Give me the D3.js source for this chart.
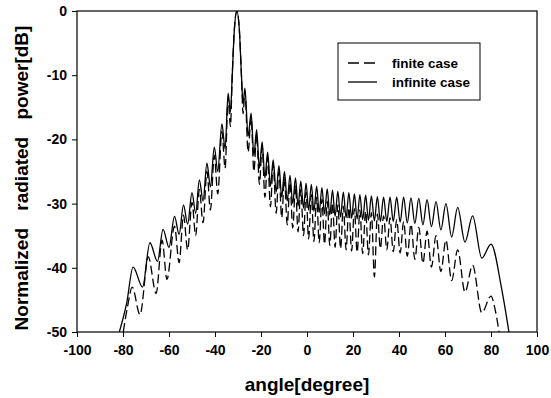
<!DOCTYPE html>
<html>
  <head>
    <meta charset="utf-8">
  </head>
  <body style="margin:0">
    <style>
      body { background: #fff; }
      svg text { font-family: "Liberation Sans", Arial, sans-serif; font-weight: bold; fill: #000; }
    </style>
    <script src="https://d3js.org/d3.v7.min.js"></script>
    <script type="text/javascript">
      const width = 551;
      const height = 398;
      const margin = { top: 11, right: 14, bottom: 66, left: 77 };

      const xTicks = [-100, -80, -60, -40, -20, 0, 20, 40, 60, 80, 100];
      const yTicks = [0, -10, -20, -30, -40, -50];
      const seriesNames = ['finite case', 'infinite case'];

      // [angle in degree, power in dB], peaks and nulls
      const finiteCase = [
        [-79.9, -50], [-78, -46], [-76, -43], [-72.6, -47.3], [-69, -38.3], [-65.6, -44],
        [-63, -35.7], [-60.9, -41.8], [-57.6, -33.5], [-55.6, -39.2], [-53.7, -31.8], [-51.9, -37.2],
        [-50, -29.8], [-48.4, -35], [-46.8, -27.8], [-45.2, -33], [-43.5, -25], [-42, -31],
        [-40.3, -22.5], [-38.8, -28.5], [-37, -18.8], [-35.6, -24.5], [-34.3, -13.5], [-33.3, -18],
        [-32.5, -10], [-31.6, -3], [-30.5, 0], [-29.4, -3], [-28.5, -10], [-27.8, -16],
        [-27, -12.5], [-25.6, -22], [-24.3, -16.5], [-23.1, -25], [-21.9, -19.2], [-20.7, -27],
        [-19.5, -21.2], [-18.3, -29], [-17.1, -22.8], [-15.9, -30.5], [-14.7, -24], [-13.4, -31.5],
        [-12.2, -25], [-11, -32.2], [-9.8, -26], [-8.6, -33.3], [-7.4, -26.7], [-6.2, -33.8],
        [-5, -27.2], [-3.9, -34.4], [-2.7, -27.8], [-1.5, -35], [-0.4, -28.2], [0.7, -35.5],
        [1.9, -28.6], [3, -35.9], [4.2, -29], [5.3, -36.1], [6.5, -29.3], [7.6, -36.3],
        [8.8, -29.6], [9.9, -36.5], [11.1, -29.9], [12.2, -36.8], [13.4, -30.2], [14.6, -37],
        [15.8, -30.4], [17, -37.2], [18.2, -30.6], [19.4, -37.4], [20.6, -30.8], [21.8, -37.6],
        [23, -31], [24.2, -37.8], [25.5, -31.2], [26.7, -38], [28, -31.4], [29.3, -41.4],
        [30.6, -31.6], [31.9, -37], [33.3, -31.9], [34.7, -37.2], [36.1, -32.2], [37.5, -37.5],
        [39, -32.5], [40.5, -37.7], [42, -32.8], [43.6, -38.2], [45.2, -33.2], [46.9, -38.7],
        [48.6, -33.7], [50.4, -39.3], [52.2, -34.3], [54.1, -39.9], [56.1, -35], [58.2, -40.6],
        [60.4, -35.7], [62.9, -42], [65.5, -37.2], [68.7, -43.8], [72, -39.6], [76, -47],
        [80, -44.4], [81.8, -46.5], [83.5, -50]
      ];
      const infiniteCase = [
        [-81.6, -50], [-78.4, -45.5], [-75.6, -39.9], [-71.5, -43], [-68.3, -36.1], [-65, -39],
        [-62.6, -34], [-60, -36.8], [-57.6, -32], [-55.6, -34.8], [-53.7, -30.2], [-51.9, -33.2],
        [-50, -28.3], [-48.4, -31.5], [-46.8, -26.3], [-45.2, -29.6], [-43.5, -23.7], [-42, -27.4],
        [-40.3, -21.2], [-38.8, -25], [-37, -17.6], [-35.6, -21.5], [-34.3, -12.8], [-33.3, -15.8],
        [-32.5, -10], [-31.6, -3], [-30.5, 0], [-29.4, -3], [-28.5, -10], [-27.8, -14.5],
        [-27, -12], [-25.6, -19.5], [-24.3, -15.9], [-23.1, -22.5], [-21.9, -18.5], [-20.7, -24.5],
        [-19.5, -20.4], [-18.3, -26], [-17.1, -22], [-15.9, -27.3], [-14.7, -23.2], [-13.4, -28.2],
        [-12.2, -24.1], [-11, -29], [-9.8, -25], [-8.6, -29.6], [-7.4, -25.6], [-6.2, -30],
        [-5, -26], [-3.9, -30.4], [-2.7, -26.5], [-1.5, -30.7], [-0.4, -26.8], [0.7, -31],
        [1.9, -27], [3, -31.2], [4.2, -27.3], [5.3, -31.4], [6.5, -27.5], [7.6, -31.6],
        [8.8, -27.7], [9.9, -31.8], [11.1, -27.9], [12.2, -32], [13.4, -28.1], [14.6, -32.1],
        [15.8, -28.2], [17, -32.2], [18.2, -28.3], [19.4, -32.3], [20.6, -28.5], [21.8, -32.4],
        [23, -28.6], [24.2, -32.5], [25.5, -28.7], [26.7, -32.6], [28, -28.8], [29.3, -32.7],
        [30.6, -28.9], [31.9, -32.8], [33.3, -29], [34.7, -32.8], [36.1, -29], [37.5, -32.8],
        [39, -29], [40.5, -32.9], [42, -29], [43.6, -33], [45.2, -29.1], [46.9, -33.1],
        [48.6, -29.2], [50.4, -33.3], [52.2, -29.4], [54.1, -33.6], [56.1, -29.7], [58.2, -34.1],
        [60.4, -30], [62.9, -35.2], [65.5, -30.6], [68.7, -36], [72, -31.9], [76, -38.5],
        [80, -36.3], [84.5, -43], [87.8, -50]
      ];

      const svg = d3.select('body')
        .append('svg')
        .attr('width', width)
        .attr('height', height)

      const scaleX = d3.scaleLinear()
        .domain([-100, 100])
        .range([margin.left, width - margin.right])
      const scaleY = d3.scaleLinear()
        .domain([-50, 0])
        .range([height - margin.bottom, margin.top])

      svg.append('clipPath')
        .attr('id', 'plot')
        .append('rect')
        .attr('x', margin.left)
        .attr('y', margin.top)
        .attr('width', width - margin.left - margin.right)
        .attr('height', height - margin.top - margin.bottom)

      const line = d3.line()
        .x((d) => scaleX(d[0]))
        .y((d) => scaleY(d[1]))
        .curve(d3.curveMonotoneX)

      svg.append('path')
        .datum(finiteCase)
        .attr('clip-path', 'url(#plot)')
        .attr('d', line)
        .attr('fill', 'none')
        .attr('stroke', '#000')
        .attr('stroke-width', 1.3)
        .attr('stroke-dasharray', '9,4')

      svg.append('path')
        .datum(infiniteCase)
        .attr('clip-path', 'url(#plot)')
        .attr('d', line)
        .attr('fill', 'none')
        .attr('stroke', '#000')
        .attr('stroke-width', 1.3)

      // frame
      svg.append('rect')
        .attr('x', margin.left)
        .attr('y', margin.top)
        .attr('width', width - margin.left - margin.right)
        .attr('height', height - margin.top - margin.bottom)
        .attr('fill', 'none')
        .attr('stroke', '#000')
        .attr('stroke-width', 1.2)

      const axisBottom = d3.axisBottom(scaleX)
        .tickValues(xTicks)
        .tickFormat((d) => String(d))
        .tickSize(5)
        .tickPadding(8)
      const gx = svg.append('g')
        .attr('transform', `translate(0, ${height - margin.bottom})`)
        .call(axisBottom)
      gx.select('.domain').remove()
      gx.selectAll('text').style('font-size', '14px')

      const axisLeft = d3.axisLeft(scaleY)
        .tickValues(yTicks)
        .tickFormat((d) => String(d))
        .tickSize(5)
        .tickPadding(5)
      const gy = svg.append('g')
        .attr('transform', `translate(${margin.left}, 0)`)
        .call(axisLeft)
      gy.select('.domain').remove()
      gy.selectAll('text').style('font-size', '14px')

      svg.append('text')
        .attr('x', scaleX(0))
        .attr('y', 391)
        .attr('text-anchor', 'middle')
        .style('font-size', '19px')
        .text('angle[degree]')

      svg.append('text')
        .attr('transform', 'translate(28, 178) rotate(-90)')
        .attr('text-anchor', 'middle')
        .style('font-size', '19px')
        .style('word-spacing', '12px')
        .text('Normalized radiated power[dB]')

      // legend
      const legend = svg.append('g')
      legend.append('rect')
        .attr('x', 338)
        .attr('y', 43)
        .attr('width', 142)
        .attr('height', 57)
        .attr('fill', '#fff')
        .attr('stroke', '#000')
        .attr('stroke-width', 1)
      seriesNames.forEach((name, i) => {
        const y = 63 + i * 19
        legend.append('line')
          .attr('x1', 348)
          .attr('x2', 377)
          .attr('y1', y)
          .attr('y2', y)
          .attr('stroke', '#000')
          .attr('stroke-width', 1.3)
          .attr('stroke-dasharray', i === 0 ? '11,5' : null)
        legend.append('text')
          .attr('x', 392)
          .attr('y', y + 5)
          .style('font-size', '13.5px')
          .text(name)
      })
    </script>
  </body>
</html>
